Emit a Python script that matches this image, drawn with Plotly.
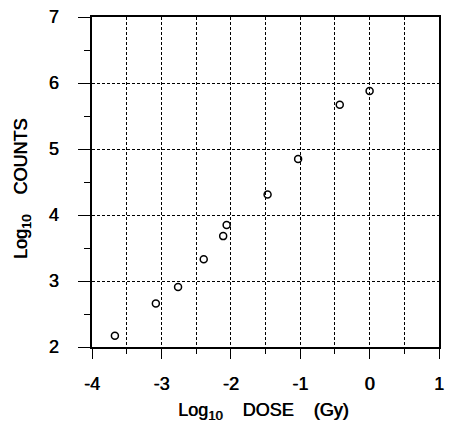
import plotly.graph_objects as go

# log10 dose (Gy) and log10 counts for each measurement
log_dose = [-3.67, -3.08, -2.76, -2.39, -2.11, -2.06, -1.47, -1.03, -0.43, 0.00]
log_counts = [2.17, 2.66, 2.91, 3.33, 3.68, 3.85, 4.31, 4.85, 5.67, 5.88]

x_ticks = [-4, -3, -2, -1, 0, 1]
y_ticks = [2, 3, 4, 5, 6, 7]

FONT = "Liberation Sans, Arial, sans-serif"
SP = "\u00a0" * 4
# a slight horizontal shadow gives the lettering a medium weight
HEAVY = "0.6px 0px 0px black"

fig = go.Figure(
    go.Scatter(
        x=log_dose,
        y=log_counts,
        mode="markers",
        marker=dict(symbol="circle-open", size=7, color="black", line=dict(width=1.5, color="black")),
        showlegend=False,
        cliponaxis=False,
    )
)

grid_dash = "3px,2px"
label_font = dict(family=FONT, size=18, color="black", shadow=HEAVY)

fig.update_layout(
    width=451,
    height=428,
    margin=dict(l=92, r=7, t=13, b=81),
    paper_bgcolor="white",
    plot_bgcolor="white",
    font=dict(family=FONT, size=18, color="black"),
    xaxis=dict(
        range=[-4, 1],
        tickvals=x_ticks,
        ticktext=[str(v) for v in x_ticks],
        ticks="outside",
        ticklen=10,
        tickwidth=1,
        tickcolor="black",
        showline=True,
        linecolor="black",
        linewidth=1.5,
        mirror=True,
        showgrid=True,
        gridcolor="black",
        gridwidth=1,
        griddash=grid_dash,
        minor=dict(
            dtick=0.5,
            tick0=-4,
            ticks="outside",
            ticklen=5,
            tickcolor="black",
            showgrid=True,
            gridcolor="black",
            gridwidth=1,
            griddash=grid_dash,
        ),
        zeroline=False,
        ticklabelstandoff=10,
        tickfont=label_font,
    ),
    yaxis=dict(
        range=[2, 7],
        tickvals=y_ticks,
        ticktext=[str(v) for v in y_ticks],
        ticks="outside",
        ticklen=12,
        tickwidth=1,
        tickcolor="black",
        showline=True,
        linecolor="black",
        linewidth=1.5,
        mirror=True,
        showgrid=True,
        gridcolor="black",
        gridwidth=1,
        griddash=grid_dash,
        minor=dict(
            dtick=0.5,
            tick0=2,
            ticks="outside",
            ticklen=6,
            tickcolor="black",
            showgrid=False,
        ),
        zeroline=False,
        ticklabelstandoff=16,
        tickfont=label_font,
    ),
    annotations=[
        dict(
            text=f"Log<sub><span style='font-size:13px'>10</span></sub>{SP}DOSE{SP}(Gy)",
            xref="paper", yref="paper",
            x=0.495, y=-0.195,
            xanchor="center", yanchor="middle",
            showarrow=False,
            font=label_font,
        ),
        dict(
            text=f"Log<sub><span style='font-size:13px'>10</span></sub>{SP}COUNTS",
            xref="paper", yref="paper",
            x=-0.2, y=0.48,
            xanchor="center", yanchor="middle",
            textangle=-90,
            showarrow=False,
            font=label_font,
        ),
    ],
)

fig.write_html("out.html")
